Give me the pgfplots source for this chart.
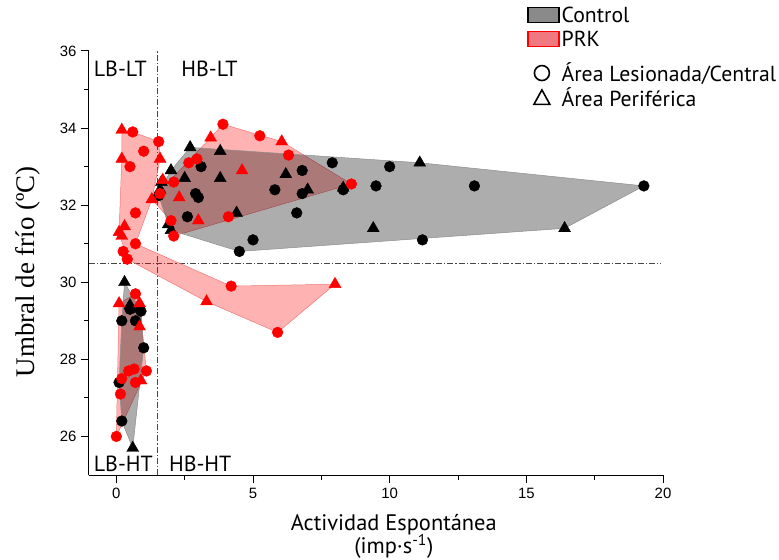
\documentclass[border=0pt]{standalone}
\usepackage{fontspec}
\setmainfont{PT Sans}
\newfontfamily\tickfont{Liberation Sans}
\newfontfamily\seriffont{Liberation Serif}
\usepackage{pgfplots}
\pgfplotsset{compat=1.18}
\definecolor{prkedge}{RGB}{240,120,120}
\definecolor{ctledge}{RGB}{140,140,140}
\definecolor{dd}{RGB}{70,70,70}
\definecolor{legprk}{RGB}{240,120,128}
\definecolor{leggray}{RGB}{138,138,138}
\begin{document}
\begin{tikzpicture}
\begin{axis}[
  scale only axis, width=574bp, height=424bp,
  xmin=-1, xmax=20, ymin=25, ymax=36,
  axis x line*=bottom, axis y line*=left,
  axis line style={line width=1bp, black},
  xtick={0,5,10,15,20}, ytick={26,28,30,32,34,36},
  minor x tick num=1, minor y tick num=1,
  tick align=outside,
  major tick length=8bp, minor tick length=5bp,
  tick style={line width=1bp, black},
  /pgf/number format/assume math mode=true,
  tick label style={font=\tickfont\fontsize{15}{18}\selectfont},
  xticklabel style={yshift=-2bp},
  yticklabel style={xshift=-1bp},
  xlabel={Actividad Espontánea\\[-1.5bp](imp·s\textsuperscript{-1})},
  xlabel style={at={(axis description cs:0.531,-0.085)}, anchor=north, align=center,
    font=\fontsize{22.5}{22}\selectfont},
  ylabel={Umbral de frío (ºC)},
  ylabel style={at={(axis description cs:-0.106,0.479)}, anchor=center,
    font=\seriffont\fontsize{27}{30}\selectfont},
  legend style={at={(axis description cs:0.763,1.11)}, anchor=north west,
    draw=none, fill=none, font=\fontsize{21.8}{24}\selectfont, row sep=0bp,
    inner sep=0pt, cells={anchor=west}},
  clip=false,
]
\coordinate (sw) at (rel axis cs:0,0);
% reference lines
\addplot[forget plot, dd, line width=0.8bp, dash pattern=on 6bp off 2bp on 1.2bp off 2bp] coordinates {(-1,30.5) (19.9,30.5)};
\addplot[forget plot, dd, line width=0.8bp, dash pattern=on 6bp off 2bp on 1.2bp off 2bp] coordinates {(1.5,25) (1.5,36)};
% PRK hulls
\addplot[forget plot, fill=red, fill opacity=0.3, draw=prkedge, line width=0.5bp] coordinates {
(0.2,33.95) (0.6,33.9) (1.55,33.65) (1.6,33.2) (1.3,32.15) (0.7,31.0) (4.2,29.9) (8.0,29.95) (5.9,28.7) (3.3,29.5) (0.4,30.6) (0.1,31.3) (0.2,33.2)} -- cycle;
\addplot[forget plot, fill=red, fill opacity=0.3, draw=prkedge, line width=0.5bp] coordinates {
(1.3,32.15) (3.45,33.75) (3.9,34.1) (6.05,33.65) (8.6,32.55) (2.1,31.2) (2.0,31.6)} -- cycle;
\addplot[forget plot, fill=red, fill opacity=0.3, draw=prkedge, line width=0.5bp] coordinates {
(0.1,29.45) (0.7,29.7) (0.85,29.45) (1.1,27.7) (0.0,26.0)} -- cycle;
% Control hulls
\addplot[forget plot, fill=black, fill opacity=0.32, draw=ctledge, line width=0.5bp] coordinates {
(2.7,33.5) (11.1,33.1) (19.3,32.5) (16.4,31.4) (4.5,30.8) (2.0,31.35) (1.9,31.5) (1.55,32.25) (1.6,32.4) (2.0,32.9)} -- cycle;
\addplot[forget plot, fill=black, fill opacity=0.32, draw=ctledge, line width=0.5bp] coordinates {
(0.3,30.0) (0.9,29.25) (1.0,28.3) (0.6,25.7) (0.2,26.4) (0.1,27.4) (0.2,29.0)} -- cycle;
% Control circles
\addplot[forget plot, only marks, mark=*, mark size=5.4bp, black] table {
x y
19.3 32.5
13.1 32.5
11.2 31.1
10.0 33.0
9.5 32.5
8.3 32.4
7.9 33.1
6.8 32.9
5.8 32.4
6.8 32.3
6.6 31.8
5.0 31.1
4.5 30.8
3.1 33.0
2.9 32.3
3.0 32.2
2.6 31.7
1.55 32.25
0.2 29.0
0.7 29.0
1.0 28.3
0.1 27.4
0.2 26.4
0.9 29.25
0.5 29.3
};
% Control triangles
\addplot[forget plot, only marks, mark=triangle*, mark size=6.9bp, black] table {
x y
2.7 33.5
3.8 33.4
2.0 32.9
2.5 32.7
3.8 32.7
1.65 32.6
1.6 32.4
4.4 31.8
1.9 31.5
2.0 31.35
6.2 32.8
7.0 32.4
8.3 32.45
9.4 31.4
11.1 33.1
16.4 31.4
0.3 30.0
0.6 25.7
0.5 29.4
0.85 29.3
};
% PRK circles
\addplot[forget plot, only marks, mark=*, mark size=5.4bp, red] table {
x y
3.9 34.1
0.6 33.9
1.55 33.65
1.0 33.4
0.5 33.0
2.65 33.1
2.95 33.2
2.1 32.6
1.6 32.3
0.7 31.8
2.0 31.6
4.1 31.7
2.1 31.2
0.7 31.0
0.25 30.8
0.4 30.6
5.25 33.8
6.3 33.3
8.6 32.55
4.2 29.9
5.9 28.7
0.7 29.7
0.45 27.7
0.65 27.75
1.1 27.7
0.2 27.5
0.7 27.4
0.15 27.1
0.0 26.0
};
% PRK triangles
\addplot[forget plot, only marks, mark=triangle*, mark size=6.9bp, red] table {
x y
0.2 33.95
3.45 33.75
0.2 33.2
1.6 33.2
4.6 32.9
1.7 32.65
2.3 32.2
1.3 32.15
3.0 31.6
0.1 31.3
0.3 31.45
0.2 31.2
6.05 33.65
3.3 29.5
8.0 29.95
0.1 29.45
0.85 29.45
0.85 28.85
0.9 27.45
};
% region labels
\node[anchor=west, font=\fontsize{22}{24}\selectfont] at (axis cs:-0.95,35.55) {LB-LT};
\node[anchor=west, font=\fontsize{22}{24}\selectfont] at (axis cs:2.25,35.55) {HB-LT};
\node[anchor=west, font=\fontsize{22}{24}\selectfont] at (axis cs:-0.95,25.3) {LB-HT};
\node[anchor=west, font=\fontsize{22}{24}\selectfont] at (axis cs:1.8,25.3) {HB-HT};
% legend
\addlegendimage{legend image code/.code={\draw[fill=leggray, draw=black, line width=1.5bp] (0bp,-7.5bp) rectangle (31bp,7.5bp); \path (0bp,-13.5bp);}}
\addlegendentry{Control}
\addlegendimage{legend image code/.code={\draw[fill=legprk, draw=red, line width=1.5bp] (0bp,-7.5bp) rectangle (31bp,7.5bp); \path (0bp,-21.5bp);}}
\addlegendentry{PRK}
\addlegendimage{legend image code/.code={\draw[black, line width=1.6bp] (14bp,0bp) circle (7.5bp); \path (0bp,-9.5bp);}}
\addlegendentry{Área Lesionada/Central}
\addlegendimage{legend image code/.code={\draw[black, line width=1.6bp] (6bp,-7bp) -- (22bp,-7bp) -- (14bp,7.5bp) -- cycle;}}
\addlegendentry{Área Periférica}
\end{axis}
\pgfresetboundingbox
\path ([shift={(-89bp,-85bp)}]sw) rectangle ([shift={(690bp,475bp)}]sw);
\end{tikzpicture}
\end{document}
